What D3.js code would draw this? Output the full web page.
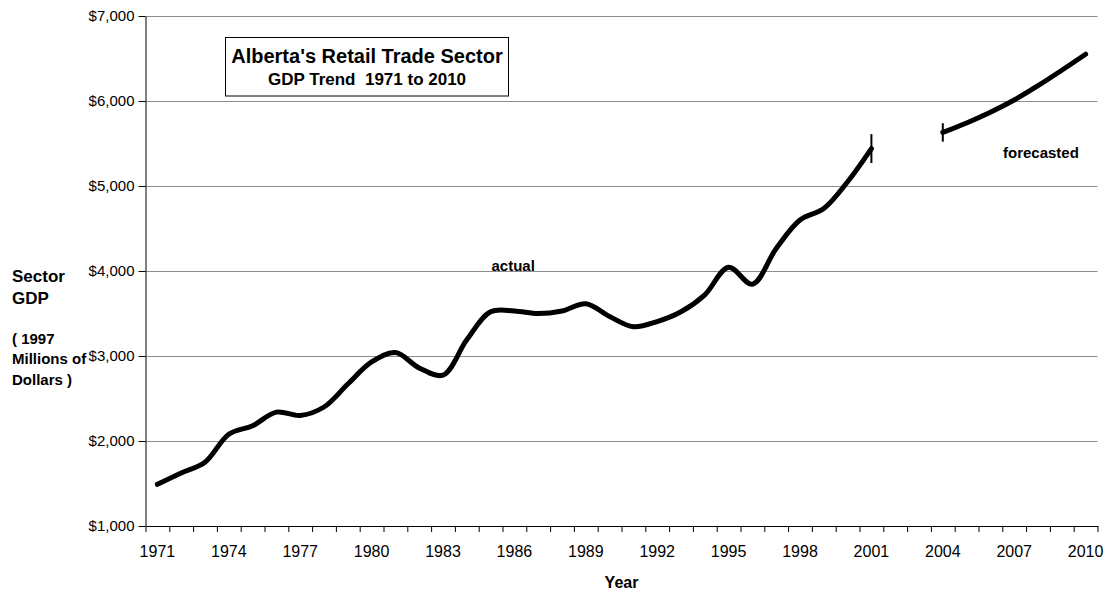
<!DOCTYPE html>
<html><head><meta charset="utf-8">
<script src="https://cdn.jsdelivr.net/npm/d3@7"></script>
<style>
body{margin:0;background:#fff;}
svg{display:block;font-family:"Liberation Sans",Arial,sans-serif;}
</style></head>
<body><svg id="c" width="1110" height="591"></svg>
<script>
const years = d3.range(1971, 2011).map(String);
const actualYears = d3.range(1971, 2002).map(String);
const actualValues = [1490,1624,1750,2080,2180,2340,2300,2400,2670,2930,3040,2860,2775,3190,3520,3530,3500,3530,3615,3465,3345,3405,3520,3720,4045,3845,4265,4600,4735,5050,5440];
const forecastYears = d3.range(2004, 2011).map(String);
const forecastValues = [5630,5742,5868,6012,6180,6362,6550];
const errorYears = ["2001","2004"];
const errorValues = [5440,5630];
const errorSizes = [170,108];
const yTicks = [1000,2000,3000,4000,5000,6000,7000];
const labelYears = years.filter((d,i)=>i%3===0);

(function(){
const svg = d3.select("#c");
const pl = 145.5, pr = 1097.5, pt = 16, pb = 526;
const x = d3.scaleBand().domain(years).range([pl, pr]).padding(0);
const xc = d => x(d) + x.bandwidth()/2;
const y = d3.scaleLinear().domain([1000,7000]).range([pb, pt]);
const xb = d3.scaleLinear().domain([0, years.length]).range([pl, pr]);

// gridlines
svg.append("g").selectAll("line").data(yTicks.slice(1)).join("line")
  .attr("x1", pl).attr("x2", pr)
  .attr("y1", d=>Math.round(y(d))+0.5).attr("y2", d=>Math.round(y(d))+0.5)
  .attr("stroke", "#8c8c8c").attr("stroke-width", 1);

// y axis
const ya = svg.append("g").attr("transform", `translate(${pl},0)`)
  .call(d3.axisLeft(y).tickValues(yTicks).tickFormat(d3.format("$,")).tickSize(7).tickSizeOuter(0));
ya.select(".domain").attr("stroke","#000");
ya.selectAll(".tick line").attr("stroke","#000");
ya.selectAll("text").attr("font-size", 15).attr("fill","#000").attr("x",-11);

// x axis boundary ticks
const xa = svg.append("g").attr("transform", `translate(0,${pb})`)
  .call(d3.axisBottom(xb).tickValues(d3.range(0, years.length+1)).tickFormat("").tickSize(6).tickSizeOuter(0));
xa.select(".domain").attr("stroke","#000");
xa.selectAll(".tick line").attr("stroke","#000");
// x labels
const xl = svg.append("g").attr("transform", `translate(0,${pb})`)
  .call(d3.axisBottom(x).tickValues(labelYears).tickSize(0));
xl.select(".domain").remove();
xl.selectAll("text").attr("font-size", 16).attr("fill","#000").attr("y", 31).attr("dy", 0);

// lines
const line = d3.line().x(d=>xc(d[0])).y(d=>y(d[1])).curve(d3.curveCatmullRom.alpha(0.5));
svg.append("path").datum(actualYears.map((d,i)=>[d, actualValues[i]]))
  .attr("d", line).attr("fill","none").attr("stroke","#000").attr("stroke-width",5)
  .attr("stroke-linejoin","round").attr("stroke-linecap","round");
svg.append("path").datum(forecastYears.map((d,i)=>[d, forecastValues[i]]))
  .attr("d", line).attr("fill","none").attr("stroke","#000").attr("stroke-width",5)
  .attr("stroke-linejoin","round").attr("stroke-linecap","round");

// error bars
svg.append("g").selectAll("line").data(errorYears).join("line")
  .attr("x1", d=>xc(d)).attr("x2", d=>xc(d))
  .attr("y1", (d,i)=>y(errorValues[i]+errorSizes[i])).attr("y2", (d,i)=>y(errorValues[i]-errorSizes[i]))
  .attr("stroke","#000").attr("stroke-width",2);

// title box
svg.append("rect").attr("x",225.5).attr("y",37.5).attr("width",283).attr("height",58.5)
  .attr("fill","#fff").attr("stroke","#000").attr("stroke-width",1);
svg.append("text").attr("x",367).attr("y",63).attr("text-anchor","middle")
  .attr("font-size",20).attr("font-weight","bold").text("Alberta's Retail Trade Sector");
svg.append("text").attr("x",367).attr("y",85).attr("text-anchor","middle")
  .attr("font-size",17).attr("font-weight","bold").style("white-space","pre").text("GDP Trend  1971 to 2010");

// annotations
svg.append("text").attr("x",491.5).attr("y",271).attr("font-size",15).attr("font-weight","bold").text("actual");
svg.append("text").attr("x",1003).attr("y",158).attr("font-size",15).attr("font-weight","bold").text("forecasted");

// axis titles
svg.append("text").attr("x",(pl+pr)/2).attr("y",588).attr("text-anchor","middle")
  .attr("font-size",16).attr("font-weight","bold").text("Year");
const yt = [["Sector",282,17],["GDP",304,17],["( 1997",344,15],["Millions of",364,15],["Dollars )",385,15]];
svg.append("g").selectAll("text").data(yt).join("text")
  .attr("x",12).attr("y",d=>d[1]).attr("font-size",d=>d[2]).attr("font-weight","bold").text(d=>d[0]);
})();
</script>
</body></html>
